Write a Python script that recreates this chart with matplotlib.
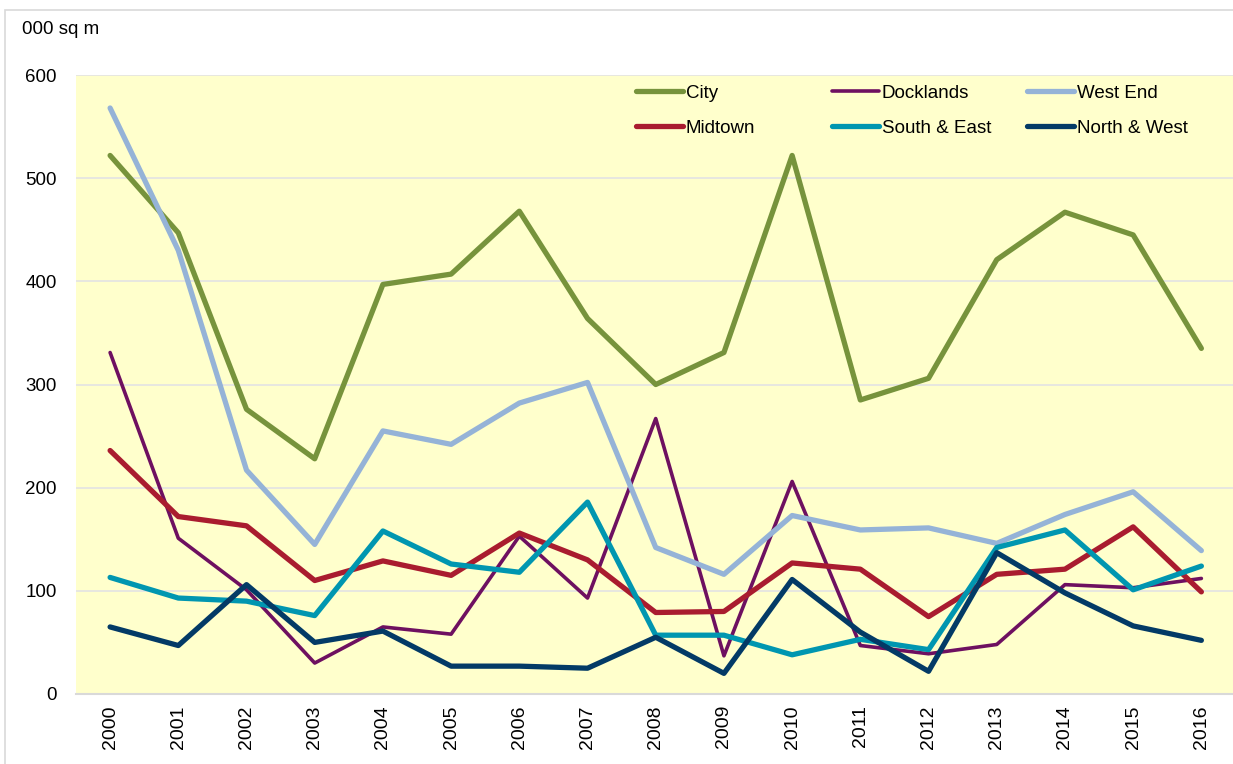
import matplotlib
matplotlib.use("Agg")
import matplotlib.pyplot as plt
from matplotlib.legend import Legend
from matplotlib.patches import Rectangle

years = [str(y) for y in range(2000, 2017)]

city = [522, 447, 276, 228, 397, 407, 468, 364, 300, 331, 522, 285, 306, 421, 467, 445, 335]
docklands = [331, 151, 101, 30, 65, 58, 153, 93, 267, 37, 206, 47, 39, 48, 106, 103, 112]
west_end = [568, 430, 217, 145, 255, 242, 282, 302, 142, 116, 173, 159, 161, 146, 174, 196, 139]
midtown = [236, 172, 163, 110, 129, 115, 156, 130, 79, 80, 127, 121, 75, 116, 121, 162, 99]
south_east = [113, 93, 90, 76, 158, 126, 118, 186, 57, 57, 38, 53, 43, 142, 159, 101, 124]
north_west = [65, 47, 106, 50, 61, 27, 27, 25, 55, 20, 111, 60, 22, 137, 98, 66, 52]

plt.rcParams['font.family'] = ['Liberation Sans', 'DejaVu Sans']

fig = plt.figure(figsize=(12.33, 7.64), dpi=100)
fig.patches.append(Rectangle((5 / 1233, -0.1), 1.2, 1 - 10 / 764 + 0.1, transform=fig.transFigure,
                             fill=False, edgecolor='#D9D9D9', linewidth=1.2))
ax = fig.add_axes([76 / 1233, 1 - 694 / 764, 1 - 76 / 1233 + 0.002, (694 - 75) / 764])
ax.set_facecolor('#FFFFCC')

x = range(len(years))
l_city, = ax.plot(x, city, color='#77933C', lw=3.8, label='City', solid_capstyle='round')
l_dock, = ax.plot(x, docklands, color='#6E1060', lw=2.6, label='Docklands', solid_capstyle='round')
l_we, = ax.plot(x, west_end, color='#95B3D7', lw=3.8, label='West End', solid_capstyle='round')
l_mid, = ax.plot(x, midtown, color='#A91C2F', lw=3.8, label='Midtown', solid_capstyle='round')
l_se, = ax.plot(x, south_east, color='#0096B0', lw=3.8, label='South & East', solid_capstyle='round')
l_nw, = ax.plot(x, north_west, color='#033A66', lw=3.8, label='North & West', solid_capstyle='round')

ax.set_xlim(-0.5, 16.5)
ax.set_ylim(0, 600)
ax.set_yticks(range(0, 601, 100))
ax.set_xticks(list(x))
ax.set_xticklabels(years, rotation=90, fontsize=14)
ax.tick_params(axis='y', labelsize=13.5, length=0, pad=14)
ax.tick_params(axis='x', length=0, pad=8)
ax.grid(axis='y', color='#E3E3E3', linewidth=1.2)
ax.set_axisbelow(True)
for s in ['top', 'right', 'left']:
    ax.spines[s].set_visible(False)
ax.spines['bottom'].set_color('#D9D9D9')
ax.spines['bottom'].set_linewidth(1.5)

# Excel-style legend: equal-width columns, so one small legend per column
columns = [(l_city, l_mid), (l_dock, l_se), (l_we, l_nw)]
col_x = [0.483, 0.652, 0.8205]
for hs, cx in zip(columns, col_x):
    leg = Legend(ax, hs, [h.get_label() for h in hs], loc='upper left', bbox_to_anchor=(cx, 0.984),
                 frameon=False, fontsize=13.5, handlelength=2.5, handletextpad=0.16,
                 labelspacing=0.95, borderpad=0, borderaxespad=0)
    for h in leg.get_lines():
        h.set_solid_capstyle('round')
    ax.add_artist(leg)

fig.text(22 / 1233, 1 - 30 / 764, '000 sq m', fontsize=13.5, va='center', ha='left')

fig.savefig('out.png', dpi=100)
